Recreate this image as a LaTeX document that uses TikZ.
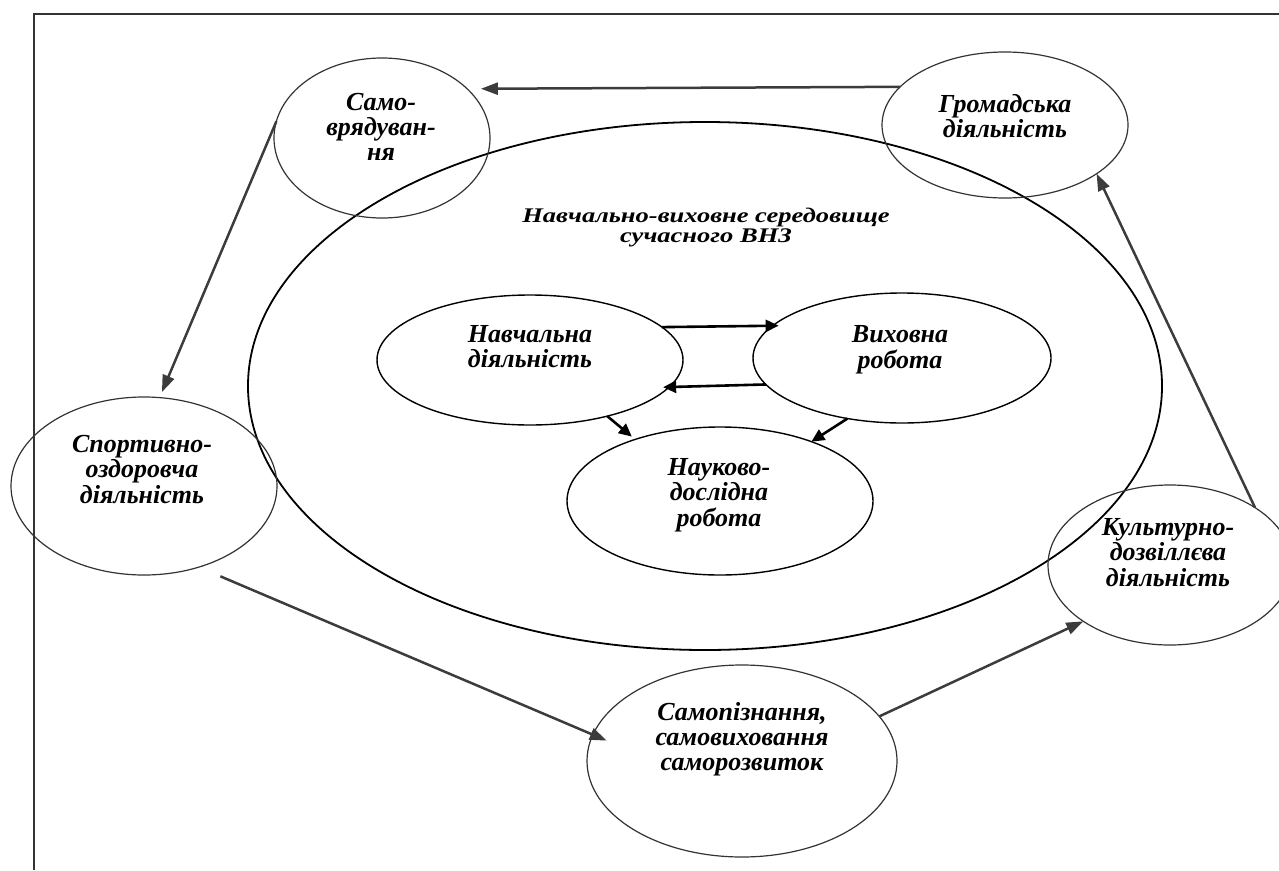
\documentclass[tikz,border=0pt]{standalone}
\usepackage{fontspec}
\usepackage{graphicx}
\setmainfont{Liberation Serif}
\usetikzlibrary{arrows.meta,shapes.geometric}
\definecolor{ogray}{HTML}{333333}
\definecolor{agray}{HTML}{3C3C3C}
\newcommand{\mylines}[1]{\begin{tabular}[t]{@{}c@{}}#1\end{tabular}}
\newcommand{\lblfont}{\fontsize{26}{25}\selectfont\bfseries\itshape}
\tikzset{
  ell/.style={ellipse, inner sep=0pt, outer sep=0pt},
  outerell/.style={ell, draw=ogray, line width=1.2pt},
  innerell/.style={ell, draw=black, line width=1.4pt},
  bigell/.style={ell, draw=black, line width=1.8pt},
  lbl/.style={inner sep=0pt, anchor=base, font=\lblfont},
  oarr/.style={draw=agray, line width=2.5pt, -{Triangle[length=17pt,width=12pt]}},
  iarr/.style={draw=black, line width=2.6pt, -{Triangle[length=13pt,width=12pt]}},
  framel/.style={draw=ogray, line width=2.2pt}
}
\begin{document}
\begin{tikzpicture}[x=1pt,y=-1pt]
\useasboundingbox (0,0) rectangle (1279,870);
\draw[framel] (34,870) -- (34,14) -- (1279,14);

% big environment ellipse
\node[bigell, minimum width=914pt, minimum height=528pt] (big) at (705,386) {};

% outer ellipses
\node[outerell, minimum width=216pt, minimum height=160pt] (sam) at (382,138) {};
\node[outerell, minimum width=246pt, minimum height=146pt] (gr) at (1005,125) {};
\node[outerell, minimum width=266pt, minimum height=178pt] (sp) at (144,486) {};
\node[outerell, minimum width=244pt, minimum height=160pt] (ku) at (1170,565) {};
\node[outerell, minimum width=310pt, minimum height=192pt] (sa) at (742,761) {};

% inner ellipses
\node[innerell, minimum width=306pt, minimum height=130pt] (nav) at (530,360) {};
\node[innerell, minimum width=298pt, minimum height=130pt] (vyh) at (902,358) {};
\node[innerell, minimum width=306pt, minimum height=148pt] (nauk) at (720,501) {};

% labels
\node[lbl] (tsam) at (381,110) {\mylines{Само-\\врядуван-\\ня}};
\node[lbl] (tgr) at (1005,112) {\mylines{Громадська\\діяльність}};
\node[lbl] (tsp) at (142,452) {\mylines{Спортивно-\\оздоровча\\діяльність}};
\node[lbl] (tku) at (1168,535) {\mylines{Культурно-\\дозвіллєва\\діяльність}};
\node[lbl] (tsa) at (742,720) {\mylines{Самопізнання,\\самовиховання\\саморозвиток}};
\node[lbl] (tnav) at (530,342) {\mylines{Навчальна\\діяльність}};
\node[lbl] (tvyh) at (900,342) {\mylines{Виховна\\робота}};
\node[lbl] (tnauk) at (719,475) {\mylines{Науково-\\дослідна\\робота}};
\node[lbl] (title) at (706,222) {\scalebox{1.02}[0.8]{\fontsize{26}{25}\selectfont\mylines{Навчально-виховне середовище\\сучасного ВНЗ}}};

% outer cycle arrows
\draw[oarr, shorten >=13.7pt] (gr.160.76) -- (sam.30.67);
\draw[oarr, shorten >=6pt] (sam.171) -- (sp.80);
\draw[oarr, shorten <=23.5pt, shorten >=-15pt] (sp.304.95) -- (sa.170.54);
\draw[oarr] (sa.18) -- (ku.213.2);
\draw[oarr] (ku.34.94) -- (gr.332.7);

% inner arrows
\draw[iarr, shorten >=-6pt] (nav.14.06) -- (vyh.166.7);
\draw[iarr, shorten >=-6pt] (vyh.191.3) -- (nav.349.96);
\draw[iarr, shorten >=4.4pt] (nav.324.3) -- (nauk.144.9);
\draw[iarr] (vyh.228.6) -- (nauk.33.1);
\end{tikzpicture}
\end{document}
